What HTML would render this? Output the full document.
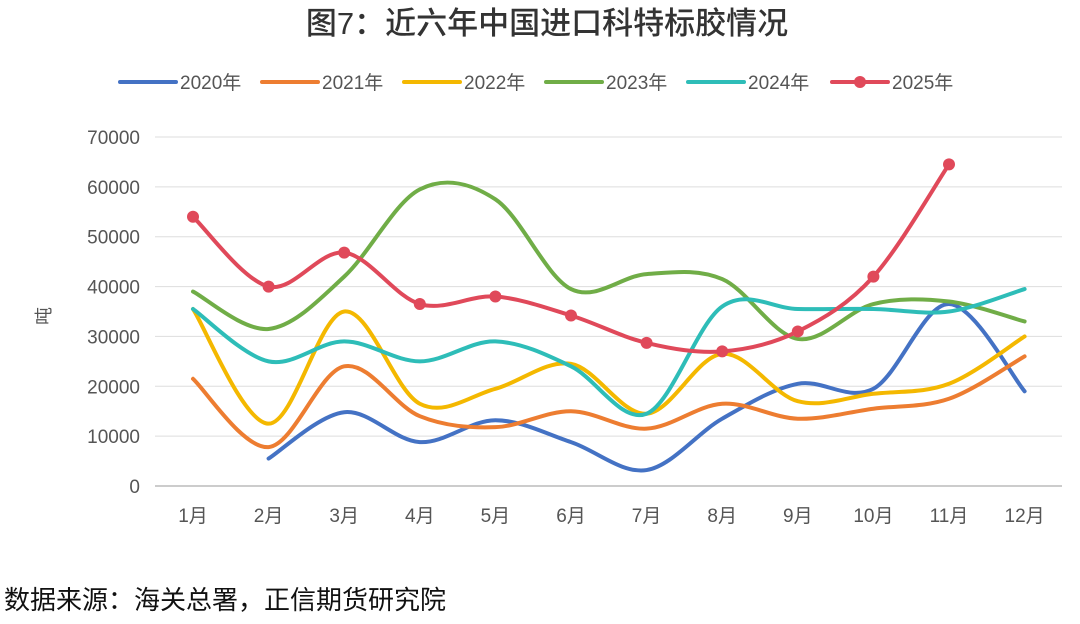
<!DOCTYPE html>
<html><head><meta charset="utf-8">
<style>
body{margin:0;background:#fff;width:1080px;height:619px;overflow:hidden;font-family:"Liberation Sans","Noto Sans CJK SC",sans-serif;}
</style></head>
<body>
<svg id="chart" width="1080" height="619" xmlns="http://www.w3.org/2000/svg" font-family="Liberation Sans, Noto Sans CJK SC, sans-serif">
<text x="547" y="34" text-anchor="middle" font-size="31" fill="#333" font-weight="500">图7：近六年中国进口科特标胶情况</text>
<g id="legend"></g>
<g id="grid"></g>
<text transform="translate(50,316) rotate(-90)" text-anchor="middle" font-size="18" fill="#555">吨</text>
<g id="series"></g>
<text x="4" y="609" font-size="26" fill="#111">数据来源：海关总署，正信期货研究院</text>
</svg>
<script>
const months=['1月','2月','3月','4月','5月','6月','7月','8月','9月','10月','11月','12月'];
const yTicks=[0,10000,20000,30000,40000,50000,60000,70000];
const seriesNames=['2020年','2021年','2022年','2023年','2024年','2025年'];
const seriesColors=['#4472c4','#ed7d31','#f4b800','#70ad47','#2ebdb8','#e0495a'];
const s2020=[null,5500,14800,8800,13200,8800,3200,13500,20500,19500,36500,19000];
const s2021=[21500,7800,24000,14000,11800,15000,11500,16500,13500,15500,17500,26000];
const s2022=[35500,12500,35000,16500,19500,24500,14500,26500,17000,18500,20500,30000];
const s2023=[39000,31500,42000,59500,57500,39500,42500,41500,29500,36500,37000,33000];
const s2024=[35500,25000,29000,25000,29000,24000,14500,36000,35500,35500,35000,39500];
const s2025=[54000,40000,46800,36500,38000,34200,28700,27000,31000,42000,64500,null];
const allSeries=[s2020,s2021,s2022,s2023,s2024,s2025];
const NS='http://www.w3.org/2000/svg';
const x=i=>193+i*75.6;
const y=v=>486-v/70000*349;
function mk(t,a,p){const e=document.createElementNS(NS,t);for(const k in a)e.setAttribute(k,a[k]);p.appendChild(e);return e;}
const grid=document.getElementById('grid');
yTicks.forEach(t=>{
 const l=mk('line',{x1:155,x2:1062,y1:y(t),y2:y(t),stroke:t===0?'#999':'#ddd','stroke-width':1},grid);
 
 
 const tx=mk('text',{x:140,y:y(t)+7,'text-anchor':'end','font-size':19,fill:'#555'},grid);
 tx.textContent=t;
 
 
});
months.forEach((m,i)=>{
 const tx=mk('text',{x:x(i),y:522,'text-anchor':'middle','font-size':19,fill:'#555'},grid);
 tx.textContent=m;
 
 
});
function path(pts){
 let d='M'+pts[0][0]+','+pts[0][1];
 for(let i=0;i<pts.length-1;i++){
  const p0=pts[i-1]||pts[i],p1=pts[i],p2=pts[i+1],p3=pts[i+2]||p2;
  const c1=[p1[0]+(p2[0]-p0[0])/6,p1[1]+(p2[1]-p0[1])/6];
  const c2=[p2[0]-(p3[0]-p1[0])/6,p2[1]-(p3[1]-p1[1])/6];
  d+=' C'+c1+' '+c2+' '+p2;
 }
 return d;
}
const sg=document.getElementById('series');
allSeries.forEach((s,k)=>{
 const pts=[];s.forEach((v,i)=>{if(v!==null)pts.push([x(i),y(v)]);});
 const p=mk('path',{d:path(pts),fill:'none',stroke:seriesColors[k],'stroke-width':4,'stroke-linecap':'round'},sg);
 
 
 if(k===5)pts.forEach(q=>{
  const c=mk('circle',{cx:q[0],cy:q[1],r:6,fill:seriesColors[k]},sg);
  
  
 });
});
const lg=document.getElementById('legend');
const lx=[120,262,404,546,688,832];
seriesNames.forEach((n,k)=>{
 const g=mk('g',{},lg);
 
 
 mk('line',{x1:lx[k],x2:lx[k]+56,y1:82,y2:82,stroke:seriesColors[k],'stroke-width':4,'stroke-linecap':'round'},g);
 if(k===5)mk('circle',{cx:lx[k]+28,cy:82,r:6,fill:seriesColors[k]},g);
 const t=mk('text',{x:lx[k]+60,y:89,'font-size':19,fill:'#555'},g);
 t.textContent=n;
});
</script>
</body></html>
